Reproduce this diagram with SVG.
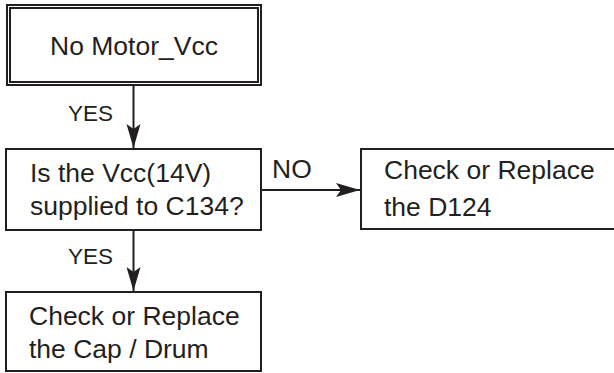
<svg xmlns="http://www.w3.org/2000/svg" width="614" height="373" viewBox="0 0 614 373">
<style>
.box{fill:#fff;stroke:#231f20;stroke-width:2}
.t{font-family:"Liberation Sans",Arial,sans-serif;font-size:26.5px;fill:#231f20}
.lbl{font-family:"Liberation Sans",Arial,sans-serif;font-size:22.5px;fill:#231f20}
.ln{stroke:#231f20;stroke-width:2;fill:none}
</style>
<defs>
<marker id="ah" markerUnits="userSpaceOnUse" markerWidth="26" markerHeight="16" refX="24" refY="7" orient="auto">
<path d="M0,0 L24,7 L0,14 L5,7 Z" fill="#231f20"/>
</marker>
</defs>
<g id="n1">
<rect class="box" x="7" y="5" width="254" height="80"/>
<rect class="box" x="10" y="8" width="248" height="74" stroke-width="1.5"/>
<text class="t" x="134" y="55" text-anchor="middle">No Motor_Vcc</text>
</g>
<g id="n2">
<rect class="box" x="6" y="149" width="255" height="81"/>
<text class="t" x="30" y="182">Is the Vcc(14V)</text>
<text class="t" x="30" y="215">supplied to C134?</text>
</g>
<g id="n3">
<rect class="box" x="361" y="149" width="260" height="80"/>
<text class="t" x="384" y="179">Check or Replace</text>
<text class="t" x="384" y="216">the D124</text>
</g>
<g id="n4">
<rect class="box" x="6" y="292" width="255" height="79"/>
<text class="t" x="29" y="325">Check or Replace</text>
<text class="t" x="29" y="358">the Cap / Drum</text>
</g>
<g id="connectors">
<line class="ln" x1="133.5" y1="85" x2="133.5" y2="148" marker-end="url(#ah)"/>
<line class="ln" x1="133.5" y1="230" x2="133.5" y2="291" marker-end="url(#ah)"/>
<line class="ln" x1="261" y1="190" x2="360" y2="190" marker-end="url(#ah)"/>
<text class="lbl" x="68" y="121">YES</text>
<text class="lbl" x="68" y="264">YES</text>
<text class="t" x="272" y="178" font-size="25">NO</text>
</g>
</svg>
